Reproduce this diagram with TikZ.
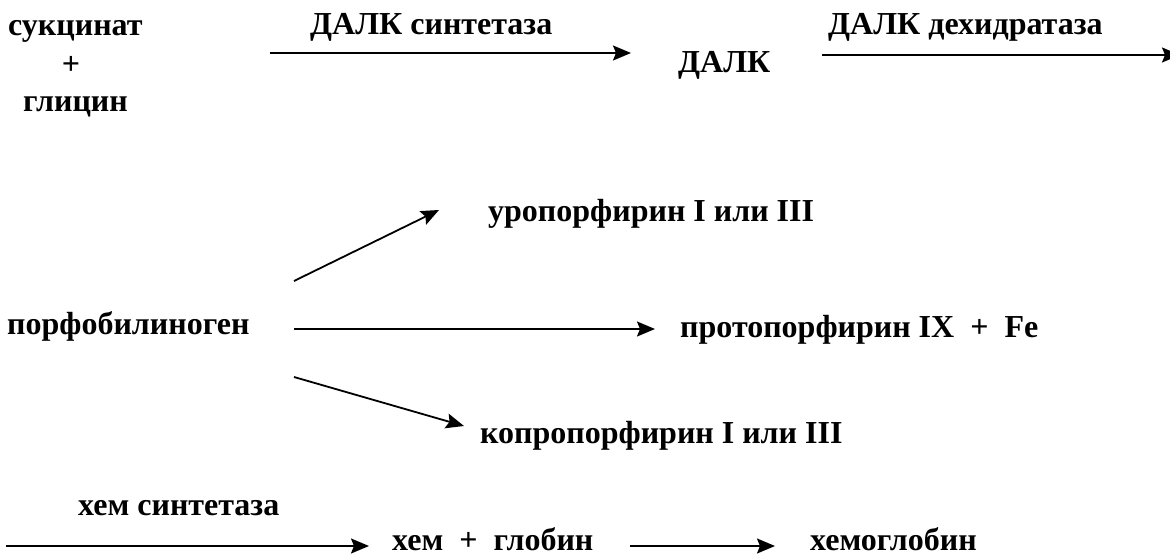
\documentclass[tikz,border=0pt]{standalone}
\usepackage{fontspec}
\setmainfont{Liberation Serif}
\usetikzlibrary{arrows.meta}
\begin{document}
\begin{tikzpicture}[x=1pt,y=-1pt,
  lbl/.style={anchor=base west,inner sep=0pt,font=\fontsize{32}{38}\selectfont\bfseries},
  rxn/.style={line width=1.8pt,-{Stealth[length=18pt,width=15pt,inset=3pt]}}]
\useasboundingbox[fill=white] (0,0) rectangle (1170,556);
\clip (0,0) rectangle (1170,556);
% top row
\node[lbl] (succ) at (8,36) {сукцинат};
\node[lbl,anchor=center] (plus1) at (71,65) {+};
\node[lbl] (gly) at (23,112) {глицин};
\node[lbl] (e1) at (310,35) {ДАЛК синтетаза};
\node[lbl] (dalk) at (678,73) {ДАЛК};
\node[lbl] (e2) at (828,35) {ДАЛК дехидратаза};
\coordinate (a1s) at (270,53);
\coordinate (a1e) at (631,53);
\coordinate (a2s) at (822,55);
\coordinate (a2e) at (1180,55);
\draw[rxn] (a1s) -- (a1e);
\draw[rxn] (a2s) -- (a2e);
% middle
\node[lbl] (pbg) at (7,334) {порфобилиноген};
\node[lbl] (uro) at (488,222) {уропорфирин I или III};
\node[lbl] (proto) at (680,337) {протопорфирин IX\ \ +\ \ Fe};
\node[lbl] (copro) at (480,443) {копропорфирин I или III};
\coordinate (b0u) at (294,281);
\coordinate (b1) at (439,210);
\coordinate (b0m) at (294,329);
\coordinate (b2) at (655,329);
\coordinate (b0d) at (294,377);
\coordinate (b3) at (464,426);
\draw[rxn] (b0u) -- (b1);
\draw[rxn] (b0m) -- (b2);
\draw[rxn] (b0d) -- (b3);
% bottom
\node[lbl] (e3) at (78,515) {хем синтетаза};
\node[lbl] (hem) at (392,550) {хем\ \ +\ \ глобин};
\node[lbl] (hb) at (810,550) {хемоглобин};
\coordinate (c0) at (6,546);
\coordinate (c1) at (369,546);
\coordinate (c2) at (630,546);
\coordinate (c3) at (775,546);
\draw[rxn] (c0) -- (c1);
\draw[rxn] (c2) -- (c3);
\end{tikzpicture}
\end{document}
